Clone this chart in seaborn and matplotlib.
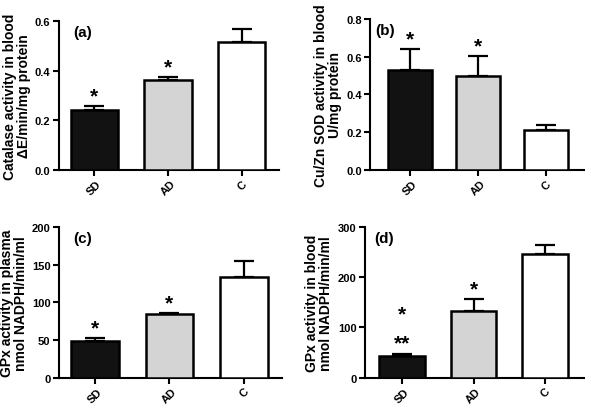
import pandas as pd
import numpy as np
import seaborn as sns
import matplotlib.pyplot as plt

groups = ['SD', 'AD', 'C']
colors = ['#121212', '#d4d4d4', '#ffffff']

catalase = [0.240, 0.362, 0.515]
catalase_err = [0.016, 0.011, 0.052]
sod = [0.530, 0.496, 0.212]
sod_err = [0.108, 0.106, 0.025]
gpx_plasma = [49, 84, 134]
gpx_plasma_err = [4, 2, 21]
gpx_blood = [43, 132, 245]
gpx_blood_err = [5, 24, 18]

sns.set_style('ticks')
plt.rcParams['font.family'] = ['Liberation Sans', 'DejaVu Sans']
plt.rcParams['font.weight'] = 'bold'
plt.rcParams['text.color'] = 'black'
plt.rcParams['axes.labelcolor'] = 'black'
plt.rcParams['xtick.color'] = 'black'
plt.rcParams['ytick.color'] = 'black'
plt.rcParams['axes.edgecolor'] = 'black'

panels = [
    dict(vals=catalase, err=catalase_err, ylim=(0, 0.6), yticks=[0, 0.2, 0.4, 0.6], fmt='{:.1f}',
         ylabel='Catalase activity in blood\nΔE/min/mg protein', tag='(a)', tagx=0.065,
         xlim=(-0.48, 2.5), stars=['*', '*', ''], rect=[0.099, 0.579, 0.37, 0.367]),
    dict(vals=sod, err=sod_err, ylim=(0, 0.8), yticks=[0, 0.2, 0.4, 0.6, 0.8], fmt='{:.1f}',
         ylabel='Cu/Zn SOD activity in blood\nU/mg protein', tag='(b)', tagx=0.025,
         xlim=(-0.58, 2.55), stars=['*', '*', ''], rect=[0.623, 0.579, 0.36, 0.372]),
    dict(vals=gpx_plasma, err=gpx_plasma_err, ylim=(0, 200), yticks=[0, 50, 100, 150, 200], fmt='{:.0f}',
         ylabel='GPx activity in plasma\nnmol NADPH/min/ml', tag='(c)', tagx=0.065,
         xlim=(-0.48, 2.5), stars=['*', '*', ''], rect=[0.099, 0.067, 0.375, 0.372]),
    dict(vals=gpx_blood, err=gpx_blood_err, ylim=(0, 300), yticks=[0, 100, 200, 300], fmt='{:.0f}',
         ylabel='GPx activity in blood\nnmol NADPH/min/ml', tag='(d)', tagx=0.045,
         xlim=(-0.52, 2.55), stars=['**', '*', ''], rect=[0.614, 0.067, 0.37, 0.372]),
]

fig = plt.figure(figsize=(5.94, 4.06), dpi=100)

for p in panels:
    ax = fig.add_axes(p['rect'])
    df = pd.DataFrame({'group': groups, 'value': p['vals']})
    sns.barplot(data=df, x='group', y='value', hue='group', palette=colors, legend=False,
                width=0.64, edgecolor='black', linewidth=1.8, ax=ax, errorbar=None, zorder=3)
    lower = np.zeros(len(groups))
    ax.errorbar(range(len(groups)), p['vals'], yerr=[lower, p['err']], fmt='none',
                ecolor='black', elinewidth=1.6, capsize=7, capthick=1.6, zorder=2)
    span = p['ylim'][1]
    for i, s in enumerate(p['stars']):
        if s:
            top = p['vals'][i] + p['err'][i]
            ax.text(i, top + span * 0.005, s, ha='center', va='bottom', fontsize=15, fontweight='bold')
    if p['tag'] == '(d)':
        ax.text(0, 108, '*', ha='center', va='bottom', fontsize=15, fontweight='bold')
    ax.text(p['tagx'], 0.97, p['tag'], transform=ax.transAxes, ha='left', va='top',
            fontsize=11, fontweight='bold')
    ax.set_xlim(*p['xlim'])
    ax.set_ylim(*p['ylim'])
    ax.set_yticks(p['yticks'])
    ax.set_yticklabels([p['fmt'].format(t) for t in p['yticks']], fontsize=8, fontweight='bold')
    ax.set_xticks(range(len(groups)))
    ax.set_xticklabels(groups, rotation=45, fontsize=8, fontweight='bold')
    ax.set_xlabel('')
    ax.set_ylabel(p['ylabel'], fontsize=10, fontweight='bold', linespacing=1.0, labelpad=3)
    for side in ['left', 'bottom']:
        ax.spines[side].set_linewidth(1.5)
    sns.despine(ax=ax)
    ax.tick_params(width=1.5, length=4, pad=2)

plt.savefig('out.png', dpi=100)
